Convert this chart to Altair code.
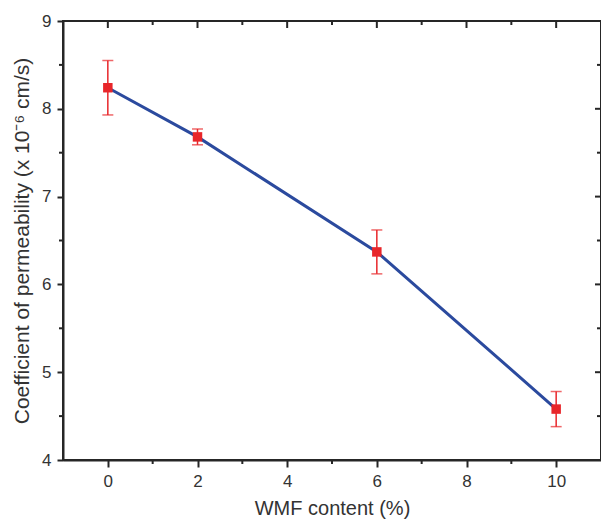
import altair as alt
import pandas as pd

# data
wmf = [0, 2, 6, 10]
perm = [8.24, 7.68, 6.37, 4.58]
err = [0.31, 0.09, 0.25, 0.20]

x_major = [0, 2, 4, 6, 8, 10]
x_minor = [1, 3, 5, 7, 9]
y_major = [4, 5, 6, 7, 8, 9]
y_minor = [4.5, 5.5, 6.5, 7.5, 8.5]

W, H = 538, 439
FONT = "Liberation Sans"
AX = "#262626"
RED = "#e8262a"
BLUE = "#2b4a9e"

df = pd.DataFrame({
    "wmf": wmf,
    "perm": perm,
    "lo": [p - e for p, e in zip(perm, err)],
    "hi": [p + e for p, e in zip(perm, err)],
})
dxmaj = pd.DataFrame({"v": x_major})
dxmin = pd.DataFrame({"v": x_minor})
dymaj = pd.DataFrame({"v": y_major})
dymin = pd.DataFrame({"v": y_minor})

xs = alt.Scale(domain=[-1, 11], nice=False, zero=False)
ys = alt.Scale(domain=[4, 9], nice=False, zero=False)

xaxis = alt.Axis(values=x_major, format="d", title="WMF content (%)", tickSize=7, tickWidth=2,
                 tickColor=AX, domainColor=AX, domainWidth=2, labelFont=FONT,
                 labelFontSize=17, labelColor="#333", labelPadding=6, titleFont=FONT,
                 titleFontSize=20, titleFontWeight="normal", titleColor="#333",
                 titlePadding=9, grid=False)
yaxis = alt.Axis(values=y_major, format="d", title="Coefficient of permeability (x 10⁻⁶ cm/s)",
                 tickSize=6, tickWidth=2, tickColor=AX, domainColor=AX, domainWidth=2,
                 labelFont=FONT, labelFontSize=17, labelColor="#333", labelPadding=6,
                 titleFont=FONT, titleFontSize=21, titleFontWeight="normal",
                 titleColor="#333", titlePadding=9, grid=False)

line = alt.Chart(df).mark_line(color=BLUE, strokeWidth=3).encode(
    x=alt.X("wmf:Q", scale=xs, axis=xaxis),
    y=alt.Y("perm:Q", scale=ys, axis=yaxis),
)
bars = alt.Chart(df).mark_rule(color=RED, strokeWidth=1.5).encode(
    x=alt.X("wmf:Q", scale=xs), y=alt.Y("lo:Q", scale=ys), y2="hi:Q"
)
cap_hi = alt.Chart(df).mark_tick(color=RED, orient="horizontal", size=11, thickness=1.5).encode(
    x=alt.X("wmf:Q", scale=xs), y=alt.Y("hi:Q", scale=ys)
)
cap_lo = alt.Chart(df).mark_tick(color=RED, orient="horizontal", size=11, thickness=1.5).encode(
    x=alt.X("wmf:Q", scale=xs), y=alt.Y("lo:Q", scale=ys)
)
pts = alt.Chart(df).mark_square(color=RED, opacity=1, size=90).encode(
    x=alt.X("wmf:Q", scale=xs), y=alt.Y("perm:Q", scale=ys)
)

def xr(d, y0, y1):
    return alt.Chart(d).mark_rule(color=AX, strokeWidth=2).encode(
        x=alt.X("v:Q", scale=xs), y=alt.value(y0), y2=alt.value(y1))

def yr(d, x0, x1):
    return alt.Chart(d).mark_rule(color=AX, strokeWidth=2).encode(
        y=alt.Y("v:Q", scale=ys), x=alt.value(x0), x2=alt.value(x1))

ticks = [
    xr(dxmin, H, H + 4),
    xr(dxmaj, 0, 7),
    xr(dxmin, 0, 4),
    yr(dymin, 0, -4),
    yr(dymaj, W, W - 6),
    yr(dymin, W, W - 4),
]

chart = alt.layer(line, bars, cap_hi, cap_lo, pts, *ticks).properties(
    width=W, height=H,
    autosize=alt.AutoSizeParams(type="none"),
    padding={"left": 63, "top": 21, "right": 0, "bottom": 64},
    background="white",
).configure_view(stroke=AX, strokeWidth=2)

chart.save("out.html", embed_options={"renderer": "svg", "actions": False})
